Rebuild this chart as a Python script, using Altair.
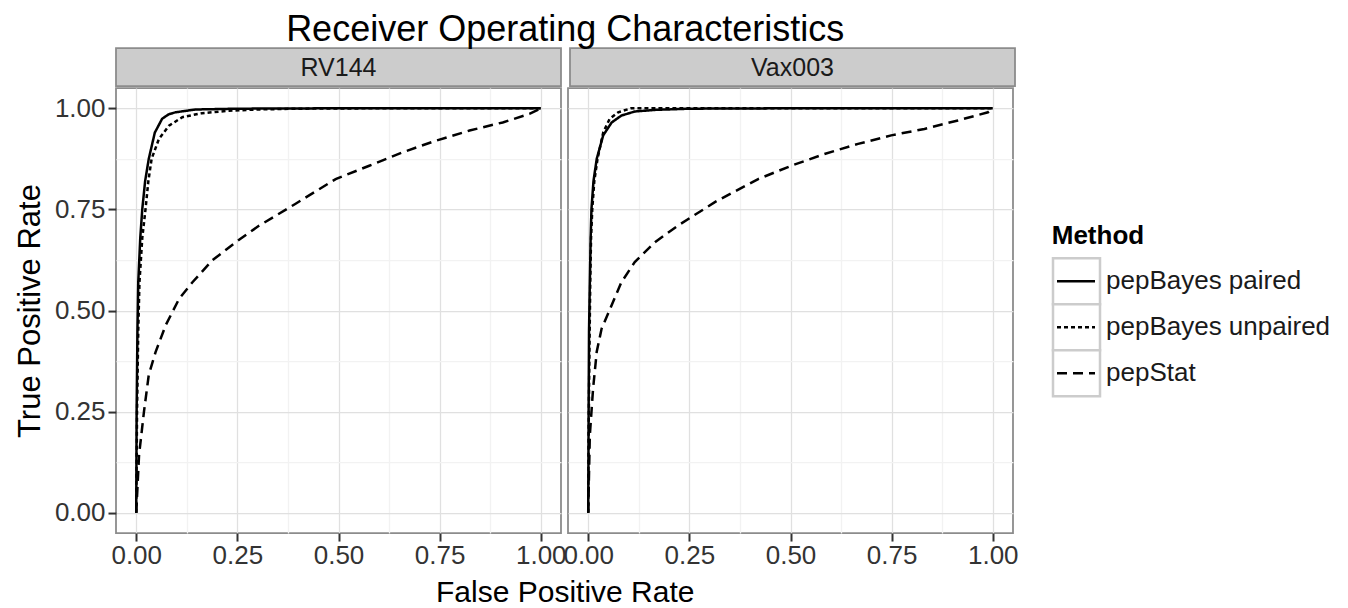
import altair as alt
import pandas as pd

methods = ["pepBayes paired", "pepBayes unpaired", "pepStat"]
datasets = ["RV144", "Vax003"]

# RV144
rv144_paired_fpr = [0, 0.001, 0.003, 0.005, 0.010, 0.015, 0.022, 0.031, 0.046, 0.064, 0.080, 0.097, 0.146, 0.25, 0.5, 0.75, 1.0]
rv144_paired_tpr = [0, 0.25, 0.45, 0.57, 0.68, 0.751, 0.82, 0.875, 0.94, 0.974, 0.985, 0.99, 0.997, 0.999, 1.0, 1.0, 1.0]
rv144_unpaired_fpr = [0, 0.002, 0.005, 0.008, 0.015, 0.023, 0.030, 0.038, 0.056, 0.081, 0.114, 0.163, 0.23, 0.3, 0.4, 0.6, 1.0]
rv144_unpaired_tpr = [0, 0.25, 0.45, 0.57, 0.68, 0.751, 0.82, 0.875, 0.924, 0.957, 0.978, 0.988, 0.994, 0.997, 0.999, 1.0, 1.0]
rv144_pepstat_fpr = [0, 0.007, 0.019, 0.031, 0.048, 0.073, 0.106, 0.139, 0.188, 0.246, 0.304, 0.394, 0.493, 0.576, 0.658, 0.741, 0.824, 0.906, 0.972, 1.0]
rv144_pepstat_tpr = [0, 0.143, 0.249, 0.341, 0.398, 0.464, 0.529, 0.570, 0.624, 0.669, 0.710, 0.764, 0.825, 0.858, 0.891, 0.920, 0.945, 0.965, 0.986, 1.0]

# Vax003
vax_paired_fpr = [0, 0.001, 0.002, 0.004, 0.006, 0.008, 0.013, 0.021, 0.037, 0.058, 0.082, 0.115, 0.165, 0.25, 0.5, 1.0]
vax_paired_tpr = [0, 0.25, 0.45, 0.57, 0.68, 0.751, 0.82, 0.875, 0.933, 0.965, 0.982, 0.992, 0.996, 0.999, 1.0, 1.0]
vax_unpaired_fpr = [0, 0.001, 0.003, 0.005, 0.007, 0.010, 0.015, 0.023, 0.037, 0.053, 0.074, 0.106, 0.2, 0.5, 1.0]
vax_unpaired_tpr = [0, 0.2, 0.4, 0.57, 0.68, 0.751, 0.82, 0.875, 0.94, 0.974, 0.99, 1.0, 1.0, 1.0, 1.0]
vax_pepstat_fpr = [0, 0.002, 0.004, 0.012, 0.021, 0.033, 0.054, 0.082, 0.115, 0.165, 0.222, 0.313, 0.42, 0.502, 0.584, 0.667, 0.749, 0.831, 0.914, 0.988, 1.0]
vax_pepstat_tpr = [0, 0.1, 0.192, 0.307, 0.398, 0.455, 0.504, 0.570, 0.620, 0.669, 0.710, 0.768, 0.825, 0.858, 0.887, 0.912, 0.933, 0.949, 0.970, 0.990, 1.0]

grid_vals = [0, 0.125, 0.25, 0.375, 0.5, 0.625, 0.75, 0.875, 1.0]

series = [
    ("RV144", "pepBayes paired", rv144_paired_fpr, rv144_paired_tpr),
    ("RV144", "pepBayes unpaired", rv144_unpaired_fpr, rv144_unpaired_tpr),
    ("RV144", "pepStat", rv144_pepstat_fpr, rv144_pepstat_tpr),
    ("Vax003", "pepBayes paired", vax_paired_fpr, vax_paired_tpr),
    ("Vax003", "pepBayes unpaired", vax_unpaired_fpr, vax_unpaired_tpr),
    ("Vax003", "pepStat", vax_pepstat_fpr, vax_pepstat_tpr),
]
frames = []
for ds, m, f, t in series:
    frames.append(pd.DataFrame({"dataset": ds, "Method": m, "fpr": f, "tpr": t, "idx": list(range(len(f)))}))
df = pd.concat(frames, ignore_index=True)

FONT = "Liberation Sans"
W, H, SH = 445, 445, 38
GAP = 7
dash_scale = alt.Scale(domain=methods, range=[[1, 0], [4, 3], [10, 6]])

minor_test = "datum.value % 0.25 != 0"
tick_color = {"condition": {"test": minor_test, "value": "transparent"}, "value": "#333333"}
grid_color = {"condition": {"test": minor_test, "value": "#f2f2f2"}, "value": "#e0e0e0"}
label_expr = "datum.value % 0.25 == 0 ? format(datum.value, '.2f') : ''"


def plot_panel(ds, first):
    d = df[df["dataset"] == ds]
    xaxis = alt.Axis(values=grid_vals, labelExpr=label_expr, tickColor=tick_color, gridColor=grid_color,
                     gridWidth=1.3, tickSize=8, tickWidth=2, domain=False, labelOverlap=False,
                     labelFontSize=26, labelColor="#333333", labelFont=FONT, labelPadding=1,
                     title=None)
    if first:
        yaxis = alt.Axis(values=grid_vals, labelExpr=label_expr, tickColor=tick_color, gridColor=grid_color,
                         gridWidth=1.3, tickSize=8, tickWidth=2, domain=False, labelOverlap=False,
                         labelFontSize=26, labelColor="#333333", labelFont=FONT, labelPadding=3,
                         title="True Positive Rate", titleFontSize=31, titleFontWeight="normal",
                         titleFont=FONT, titleColor="#000000", titlePadding=8)
    else:
        yaxis = alt.Axis(values=grid_vals, labels=False, ticks=False, domain=False, gridColor=grid_color,
                         gridWidth=1.3, title=None)
    return alt.Chart(d).mark_line(color="black", strokeWidth=2.5).encode(
        x=alt.X("fpr:Q", scale=alt.Scale(domain=[-0.05, 1.05], nice=False, zero=False), axis=xaxis),
        y=alt.Y("tpr:Q", scale=alt.Scale(domain=[-0.05, 1.05], nice=False, zero=False), axis=yaxis),
        strokeDash=alt.StrokeDash("Method:N", scale=dash_scale, legend=None),
        detail="Method:N",
        order="idx:Q",
    ).properties(width=W, height=H, view=alt.ViewBackground(stroke="#8c8c8c", strokeWidth=1.8))


def strip_panel(ds):
    return alt.Chart(pd.DataFrame({"label": [ds]})).mark_text(
        fontSize=25, font=FONT, color="#1a1a1a", align="center", baseline="middle"
    ).encode(text="label:N", x=alt.value(W / 2), y=alt.value(SH / 2 + 1)).properties(
        width=W, height=SH, view=alt.ViewBackground(fill="#cccccc", stroke="#8c8c8c", strokeWidth=1.8))


strips = alt.hconcat(strip_panel(datasets[0]), strip_panel(datasets[1]), spacing=GAP)
plots = alt.hconcat(plot_panel(datasets[0], True), plot_panel(datasets[1], False), spacing=GAP, bounds="flush")
inner = alt.vconcat(strips, plots, spacing=0).properties(
    title=alt.TitleParams("False Positive Rate", orient="bottom", fontSize=30, fontWeight="normal",
                          font=FONT, color="#000000", anchor="middle", offset=9, dx=49))
panels = alt.vconcat(inner).properties(
    title=alt.TitleParams("Receiver Operating Characteristics", fontSize=36, fontWeight="normal",
                          font=FONT, color="#000000", anchor="middle", offset=-2, dx=49))

leg = pd.DataFrame({"Method": methods})
ybase = alt.Y("Method:N", sort=methods, axis=None,
              scale=alt.Scale(domain=methods, paddingInner=0, paddingOuter=0))
boxes = alt.Chart(leg).mark_rect(fill="white", stroke="#cccccc", strokeWidth=2.5).encode(
    y=ybase, x=alt.value(0), x2=alt.value(47))
rules = alt.Chart(leg).mark_rule(color="black", strokeWidth=2.5).encode(
    y=ybase, x=alt.value(4), x2=alt.value(42),
    strokeDash=alt.StrokeDash("Method:N", scale=dash_scale, legend=None))
texts = alt.Chart(leg).mark_text(align="left", baseline="middle", fontSize=26, font=FONT, color="#1a1a1a").encode(
    y=ybase, x=alt.value(53), text="Method:N")
legend = alt.layer(boxes, rules, texts).properties(
    width=272, height=138,
    title=alt.TitleParams("Method", anchor="start", fontSize=26, fontWeight="bold", font=FONT,
                          color="#000000", offset=8),
    view=alt.ViewBackground(stroke="transparent"))

chart = alt.hconcat(panels, legend, spacing=32, center=True).properties(
    padding={"left": 5, "top": 4, "right": 0, "bottom": 0}
).configure_view(stroke="transparent").configure(background="white")

chart.save("out.html", embed_options={"renderer": "svg", "actions": False})
